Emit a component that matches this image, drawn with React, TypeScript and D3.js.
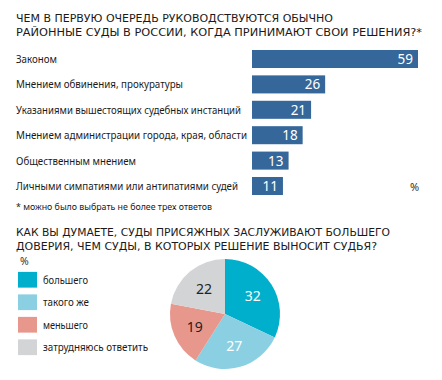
import React from "react";
import * as d3 from "d3";

const barCategories = [
  "Законом",
  "Мнением обвинения, прокуратуры",
  "Указаниями вышестоящих судебных инстанций",
  "Мнением администрации города, края, области",
  "Общественным мнением",
  "Личными симпатиями или антипатиями судей",
];
const barValues = [59, 26, 21, 18, 13, 11];

const pieCategories = ["большего", "такого же", "меньшего", "затрудняюсь ответить"];
const pieValues = [32, 27, 19, 22];
const pieColors = ["#00afcc", "#8bd0e2", "#e8978c", "#d3d4d6"];
const pieLabelColors = ["#ffffff", "#ffffff", "#222222", "#222222"];

const title1 = [
  "ЧЕМ В ПЕРВУЮ ОЧЕРЕДЬ РУКОВОДСТВУЮТСЯ ОБЫЧНО",
  "РАЙОННЫЕ СУДЫ В РОССИИ, КОГДА ПРИНИМАЮТ СВОИ РЕШЕНИЯ?*",
];
const title2 = [
  "КАК ВЫ ДУМАЕТЕ, СУДЫ ПРИСЯЖНЫХ ЗАСЛУЖИВАЮТ БОЛЬШЕГО",
  "ДОВЕРИЯ, ЧЕМ СУДЫ, В КОТОРЫХ РЕШЕНИЕ ВЫНОСИТ СУДЬЯ?",
];
const footnote = "* можно было выбрать не более трех ответов";

// layout: measured text widths in the reference (px)
const title1Widths = [317, 406];
const title2Widths = [374, 361];
const barLabelWidths = [41, 167, 225, 231, 120, 222];
const legendWidths = [45, 46, 45, 105];
const footnoteWidth = 196;

const FONT = "'Noto Sans', 'DejaVu Sans', sans-serif";
const TITLE_FONT = "'DejaVu Sans', sans-serif";
const INK = "#1a1a1a";

export default function App() {
  const W = 442;
  const H = 380;
  const y = d3
    .scaleBand<string>()
    .domain(barCategories)
    .range([46.3, 198.7])
    .paddingInner(0.29)
    .paddingOuter(0.145);
  const x = d3.scaleLinear().domain([0, 59]).range([252, 418]);

  const cx = 225;
  const cy = 314;
  const r = 55;
  const pie = d3.pie<number>().sort(null).value((d) => d)(pieValues);
  const arc = d3.arc<d3.PieArcDatum<number>>().innerRadius(0).outerRadius(r);
  const labelArc = d3.arc<d3.PieArcDatum<number>>().innerRadius(r * 0.6).outerRadius(r * 0.6);

  const legendY = d3
    .scaleBand<string>()
    .domain(pieCategories)
    .range([268.5, 358.5])
    .paddingInner(0.3)
    .paddingOuter(0.15);

  return (
    <svg
      width={W}
      height={H}
      style={{ position: "absolute", left: 0, top: 0, background: "#fff" }}
      fontFamily={FONT}
    >
      {title1.map((t, i) => (
        <text
          key={i}
          x={16}
          y={22 + i * 13.5}
          fontSize={11}
          fontFamily={TITLE_FONT}
          fill={INK}
          textLength={title1Widths[i]}
          lengthAdjust="spacingAndGlyphs"
        >
          {t}
        </text>
      ))}
      {barCategories.map((c, i) => {
        const yy = y(c)!;
        const bw = y.bandwidth();
        return (
          <g key={c}>
            <text
              x={16}
              y={yy + bw / 2 + 4}
              fontSize={10.4}
              fill={INK}
              textLength={barLabelWidths[i]}
              lengthAdjust="spacingAndGlyphs"
            >
              {c}
            </text>
            <rect x={x(0)} y={yy} width={x(barValues[i]) - x(0)} height={bw} fill="#35679a" />
            <text
              x={x(barValues[i]) - 5}
              y={yy + bw / 2 + 5}
              fontSize={13.5}
              fill="#fff"
              textAnchor="end"
            >
              {barValues[i]}
            </text>
          </g>
        );
      })}
      <text x={410} y={191} fontSize={11} fill="#333">%</text>
      <text
        x={16}
        y={210}
        fontSize={9.6}
        fill={INK}
        textLength={footnoteWidth}
        lengthAdjust="spacingAndGlyphs"
      >
        {footnote}
      </text>

      {title2.map((t, i) => (
        <text
          key={i}
          x={16}
          y={236 + i * 13.5}
          fontSize={11}
          fontFamily={TITLE_FONT}
          fill={INK}
          textLength={title2Widths[i]}
          lengthAdjust="spacingAndGlyphs"
        >
          {t}
        </text>
      ))}
      <text x={20} y={265} fontSize={10.5} fill="#333">%</text>
      {pieCategories.map((c, i) => (
        <g key={c}>
          <rect x={18} y={legendY(c)!} width={19} height={legendY.bandwidth()} fill={pieColors[i]} />
          <text
            x={43}
            y={legendY(c)! + legendY.bandwidth() / 2 + 4}
            fontSize={10.6}
            fill={INK}
            textLength={legendWidths[i]}
            lengthAdjust="spacingAndGlyphs"
          >
            {c}
          </text>
        </g>
      ))}
      <g transform={`translate(${cx},${cy})`}>
        {pie.map((d, i) => (
          <path key={i} d={arc(d)!} fill={pieColors[i]} />
        ))}
        {pie.map((d, i) => {
          const [lx, ly] = labelArc.centroid(d);
          return (
            <text
              key={"l" + i}
              x={lx}
              y={ly + 5}
              fontSize={14}
              fill={pieLabelColors[i]}
              textAnchor="middle"
            >
              {pieValues[i]}
            </text>
          );
        })}
      </g>
    </svg>
  );
}
